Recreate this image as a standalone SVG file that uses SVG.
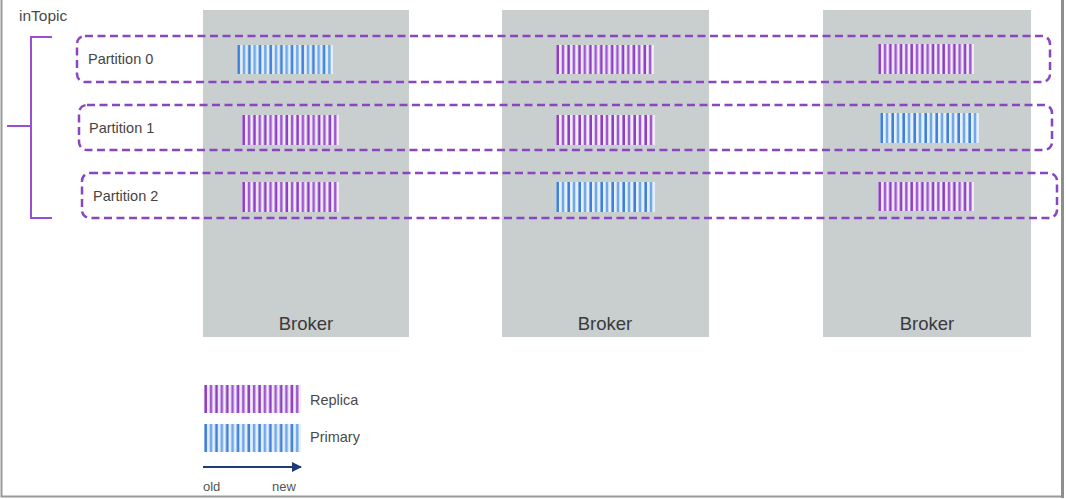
<svg xmlns="http://www.w3.org/2000/svg" width="1066" height="499" viewBox="0 0 1066 499">
<style>
.broker{fill:#c9cecf}
.blabel{font-family:"Liberation Sans",Arial,sans-serif;font-size:18.5px;fill:#3a3a3a;text-anchor:middle}
.plabel{font-family:"Liberation Sans",Arial,sans-serif;font-size:14.5px;fill:#454545}
.small{font-family:"Liberation Sans",Arial,sans-serif;font-size:14.5px;fill:#4a4a4a}
.tiny{font-family:"Liberation Sans",Arial,sans-serif;font-size:13px;fill:#555}
.part{fill:none;stroke:#8a45c0;stroke-width:2.5;stroke-dasharray:8 4.5}
.brk{fill:none;stroke:#9a4fcf;stroke-width:2}
.rep{fill:url(#purp)}
.pri{fill:url(#blue)}
</style>
<defs>
<pattern id="purp" patternUnits="objectBoundingBox" x="0" y="0" width="0.1111" height="1">
<rect x="0" y="0" width="12" height="40" fill="#f3ecf8"/>
<rect x="0.4" y="0" width="2.6" height="40" fill="#8b3fc3"/>
<rect x="5.7" y="0" width="2.6" height="40" fill="#9d5ad0"/>
</pattern>
<pattern id="blue" patternUnits="objectBoundingBox" x="0" y="0" width="0.1111" height="1">
<rect x="0" y="0" width="12" height="40" fill="#e6f0fb"/>
<rect x="0.4" y="0" width="2.6" height="40" fill="#3f80d8"/>
<rect x="5.7" y="0" width="2.6" height="40" fill="#70a8e8"/>
</pattern>
<marker id="arr" viewBox="0 0 10 10" refX="9" refY="5" markerWidth="5" markerHeight="5" orient="auto">
<path d="M0,0 L10,5 L0,10 z" fill="#1f3a7a"/>
</marker>
</defs>
<rect x="0" y="0" width="1066" height="499" fill="#ffffff"/>
<path d="M1.5,0 V496.5 H1062.5 V0" fill="none" stroke="#9a9a9a" stroke-width="2"/>
<rect x="1061" y="0" width="5" height="499" fill="#ffffff"/>
<rect x="1061" y="0" width="3" height="498" fill="#8e8e8e"/>

<g id="broker1"><rect class="broker" x="203" y="10" width="206" height="327"/><text class="blabel" x="306" y="330">Broker</text></g>
<g id="broker2"><rect class="broker" x="502" y="10" width="207" height="327"/><text class="blabel" x="605" y="330">Broker</text></g>
<g id="broker3"><rect class="broker" x="823" y="10" width="208" height="327"/><text class="blabel" x="927" y="330">Broker</text></g>

<g id="inTopic">
<text x="19" y="21" class="small" style="font-size:15.5px">inTopic</text>
<path class="brk" d="M52,37 H31 V218 H52 M7,126 H31"/>
</g>

<g id="partition0">
<rect class="part" x="77" y="36" width="973" height="46" rx="8"/>
<text class="plabel" x="88" y="64">Partition 0</text>
<rect class="pri" x="237" y="45" width="96" height="29"/>
<rect class="rep" x="556" y="45" width="98" height="29"/>
<rect class="rep" x="878" y="44" width="96" height="30"/>
</g>
<g id="partition1">
<rect class="part" x="79" y="105" width="973" height="45" rx="8"/>
<text class="plabel" x="89" y="133">Partition 1</text>
<rect class="rep" x="242" y="115" width="97" height="30"/>
<rect class="rep" x="556" y="115" width="99" height="30"/>
<rect class="pri" x="880" y="113" width="99" height="30"/>
</g>
<g id="partition2">
<rect class="part" x="82" y="173" width="975" height="45" rx="8"/>
<text class="plabel" x="93" y="201">Partition 2</text>
<rect class="rep" x="242" y="182" width="97" height="30"/>
<rect class="pri" x="556" y="182" width="99" height="30"/>
<rect class="rep" x="878" y="182" width="96" height="29"/>
</g>

<g id="legend">
<rect class="rep" x="204" y="385" width="97" height="28"/>
<text class="small" x="310" y="405">Replica</text>
<rect class="pri" x="204" y="424" width="97" height="28"/>
<text class="small" x="310" y="442">Primary</text>
</g>
<g id="connectors">
<line x1="203" y1="467" x2="301" y2="467" stroke="#1f3a7a" stroke-width="2" marker-end="url(#arr)"/>
</g>
<text class="tiny" x="203" y="491">old</text>
<text class="tiny" x="272" y="491">new</text>
</svg>
